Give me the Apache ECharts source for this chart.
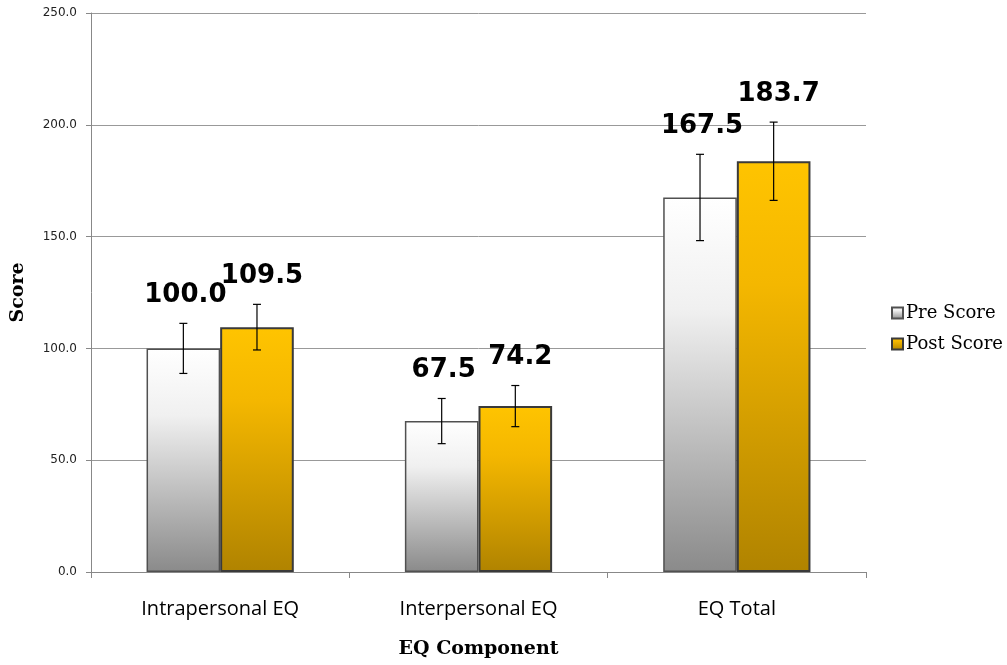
<!DOCTYPE html>
<html>
<head>
<meta charset="utf-8">
<script src="https://cdn.jsdelivr.net/npm/echarts@6/dist/echarts.min.js"></script>
<style>
html,body{margin:0;padding:0;background:#fff;}
#chart{width:1007px;height:665px;}
</style>
</head>
<body>
<div id="chart"></div>
<script>
const categories = ['Intrapersonal EQ', 'Interpersonal EQ', 'EQ Total'];
const preScore = [100.0, 67.5, 167.5];
const postScore = [109.5, 74.2, 183.7];
const preError = [11.2, 10.1, 19.3];
const postError = [10.2, 9.2, 17.5];
const yTicks = [0, 50, 100, 150, 200, 250];

const CATGAP = 0.43;

const preColor = new echarts.graphic.LinearGradient(0, 0, 0, 1, [
  {offset: 0, color: '#ffffff'},
  {offset: 0.3, color: '#f0f0f0'},
  {offset: 1, color: '#8a8a8a'}
]);
const postColor = new echarts.graphic.LinearGradient(0, 0, 0, 1, [
  {offset: 0, color: '#ffc400'},
  {offset: 0.3, color: '#f4b700'},
  {offset: 1, color: '#b08300'}
]);

function errSeries(name, vals, errs, sign) {
  return {
    type: 'custom',
    name: name + ' err',
    z: 10,
    data: vals.map((v, i) => [i, v, errs[i]]),
    encode: {x: 0, y: 1},
    renderItem: function (params, api) {
      const ci = api.value(0), v = api.value(1), e = api.value(2);
      const c = api.coord([ci, v]);
      const band = api.size([1, 0])[0];
      const bw = band * (1 - CATGAP) / 2;
      const x = c[0] + sign * bw / 2;
      const top = api.coord([ci, v + e])[1];
      const bot = api.coord([ci, v - e])[1];
      const cap = 4;
      const ls = {stroke: '#000', lineWidth: 1.2};
      return {
        type: 'group',
        children: [
          {type: 'line', shape: {x1: x, y1: top, x2: x, y2: bot}, style: ls},
          {type: 'line', shape: {x1: x - cap, y1: top, x2: x + cap, y2: top}, style: ls},
          {type: 'line', shape: {x1: x - cap, y1: bot, x2: x + cap, y2: bot}, style: ls},
          {type: 'text', style: {
            text: v.toFixed(1), x: x + (sign > 0 ? 5 : 2), y: top - 15,
            align: 'center', verticalAlign: 'bottom',
            fontFamily: 'DejaVu Sans', fontWeight: 'bold', fontSize: 26, fill: '#000'
          }}
        ]
      };
    }
  };
}

const chart = echarts.init(document.getElementById('chart'));
chart.setOption({
  animation: false,
  backgroundColor: '#fff',
  grid: {left: 91, right: 141, top: 13, bottom: 93},
  legend: {
    data: ['Pre Score', 'Post Score'],
    orient: 'vertical',
    left: 886, top: 299,
    itemWidth: 11, itemHeight: 11, itemGap: 13,
    icon: 'rect',
    textStyle: {fontFamily: 'DejaVu Serif', fontSize: 18, color: '#000', padding: [0, 0, 0, -2]}
  },
  xAxis: {
    type: 'category',
    data: categories,
    name: 'EQ Component',
    nameLocation: 'middle',
    nameGap: 68,
    nameTextStyle: {fontFamily: 'DejaVu Serif', fontWeight: 'bold', fontSize: 19, color: '#000'},
    axisLine: {lineStyle: {color: '#888', width: 1}},
    axisTick: {show: true, length: 6, lineStyle: {color: '#888'}},
    axisLabel: {fontFamily: 'Open Sans', fontSize: 20, color: '#000', margin: 27}
  },
  yAxis: {
    type: 'value',
    min: yTicks[0], max: yTicks[yTicks.length - 1], interval: 50,
    name: 'Score',
    nameLocation: 'middle',
    nameGap: 63,
    nameTextStyle: {fontFamily: 'DejaVu Serif', fontWeight: 'bold', fontSize: 19, color: '#000'},
    axisLine: {show: true, lineStyle: {color: '#888', width: 1}},
    axisTick: {show: true, length: 5, lineStyle: {color: '#888'}},
    axisLabel: {fontFamily: 'DejaVu Sans', fontSize: 12, color: '#222', margin: 14,
      formatter: v => v.toFixed(1)},
    splitLine: {lineStyle: {color: '#999', width: 1}}
  },
  series: [
    {
      type: 'bar', name: 'Pre Score', data: preScore,
      barGap: '0%', barCategoryGap: (CATGAP * 100) + '%',
      itemStyle: {color: preColor, borderColor: '#505050', borderWidth: 1.5}
    },
    {
      type: 'bar', name: 'Post Score', data: postScore,
      barGap: '0%', barCategoryGap: (CATGAP * 100) + '%',
      itemStyle: {color: postColor, borderColor: '#3a3a3a', borderWidth: 2}
    },
    errSeries('Pre Score', preScore, preError, -1),
    errSeries('Post Score', postScore, postError, 1)
  ]
});
</script>
</body>
</html>
